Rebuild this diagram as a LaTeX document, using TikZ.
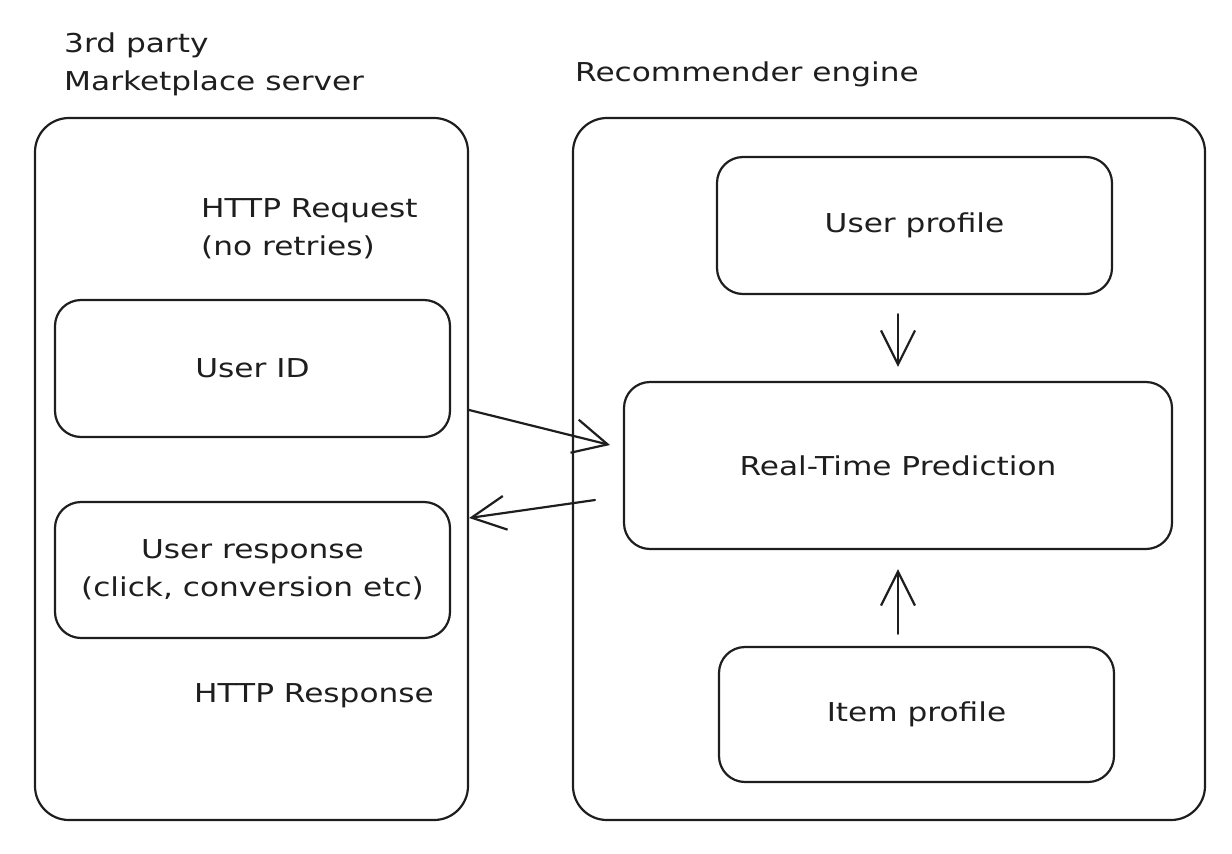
\documentclass[tikz,border=0pt]{standalone}
\usepackage{fontspec}
\setmainfont{DejaVu Sans}[FakeStretch=1.2]
\usetikzlibrary{arrows.meta}
\definecolor{ink}{HTML}{1E1E1E}
\newcommand{\handfont}{\fontsize{26}{38}\selectfont}

\begin{document}
\begin{tikzpicture}[x=1pt,y=-1pt,
    outer/.style={draw=ink, line width=2.2pt, rounded corners=34pt, inner sep=0pt},
    inner/.style={draw=ink, line width=2.2pt, rounded corners=26pt, inner sep=0pt,
        text=ink, font=\handfont, align=center},
    label/.style={text=ink, font=\handfont, align=left, inner sep=0pt},
    flow/.style={draw=ink, line width=2.2pt, line cap=round,
        -{Straight Barb[length=34pt, width=34pt, line width=2.2pt]}}]
    \useasboundingbox (0,0) rectangle (1232,854);
    % the two servers
        \node (market) at (251.5,469) [outer, minimum width=433pt, minimum height=702pt] {};
        \node (engine) at (889,469) [outer, minimum width=632pt, minimum height=702pt] {};
        \node at (64,33) [label, anchor=north west] {3rd party\\Marketplace server};
        \node (enginetitle) at (747,74) [label] {Recommender engine};
    % marketplace side
        \node (userid) at (252.5,368.5) [inner, minimum width=395pt, minimum height=137pt] {User ID};
        \node (response) at (252.5,570) [inner, minimum width=395pt, minimum height=136pt] {User response\\(click, conversion etc)};
        \node (httpreq) at (201,198) [label, anchor=north west] {HTTP Request\\(no retries)};
        \node (httpresp) at (314,696) [label] {HTTP Response};
    % engine side
        \node (userprof) at (914.5,225.5) [inner, minimum width=395pt, minimum height=137pt] {User profile};
        \node (predict) at (898,465.5) [inner, minimum width=548pt, minimum height=167pt] {Real-Time Prediction};
        \node (itemprof) at (916.5,714.5) [inner, minimum width=395pt, minimum height=135pt] {Item profile};

        \coordinate (reqtip) at (610,445);
        \coordinate (resptail) at (595,500);
        \draw[flow] (market.east |- 0,410) to (reqtip);
        \draw[flow] (resptail) to (market.east |- 0,518);
        \draw[flow, shorten <=19pt, shorten >=14pt] (predict.north |- userprof.south) to (predict.north);
        \draw[flow, shorten <=12pt, shorten >=19pt] (predict.south |- itemprof.north) to (predict.south);
\end{tikzpicture}
\end{document}
